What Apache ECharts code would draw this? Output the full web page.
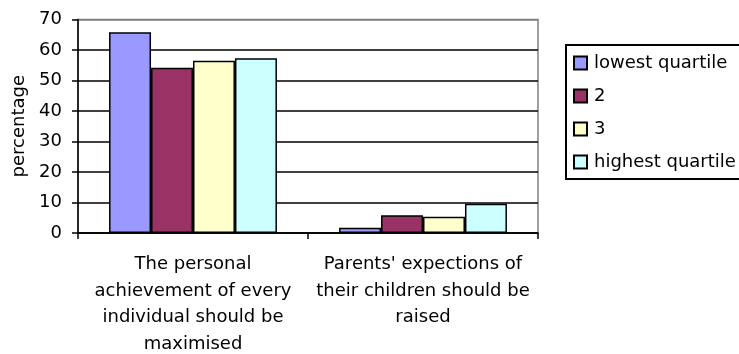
<!DOCTYPE html>
<html>
<head>
<meta charset="utf-8">
<script src="https://cdn.jsdelivr.net/npm/echarts@6/dist/echarts.min.js"></script>
<style>
html,body{margin:0;padding:0;background:#fff;}
#chart{width:739px;height:354px;}
</style>
</head>
<body>
<div id="chart"></div>
<script>
const categories = [
  "The personal\nachievement of every\nindividual should be\nmaximised",
  "Parents' expections of\ntheir children should be\nraised"
];
const seriesNames = ["lowest quartile", "2", "3", "highest quartile"];
const lowestQuartile = [65.8, 1.7];
const quartile2 = [54.2, 5.8];
const quartile3 = [56.5, 5.3];
const highestQuartile = [57.3, 9.6];
const yTicks = [0, 10, 20, 30, 40, 50, 60, 70];
const colors = ["#9999FF", "#993366", "#FFFFCC", "#CCFFFF"];

const values = [lowestQuartile, quartile2, quartile3, highestQuartile];
const FONT = "DejaVu Sans";

const chart = echarts.init(document.getElementById('chart'), null, {renderer: 'canvas'});
chart.setOption({
  animation: false,
  backgroundColor: '#ffffff',
  textStyle: {fontFamily: FONT, color: '#000'},
  grid: {
    left: 78, right: 201, top: 19.5, bottom: 121,
    containLabel: false,
    outerBoundsMode: 'none',
    show: true, borderColor: '#808080', borderWidth: 1.5, backgroundColor: 'transparent'
  },
  graphic: [{
    type: 'rect',
    shape: {x: 566, y: 45, width: 200, height: 134},
    style: {fill: 'none', stroke: '#000', lineWidth: 2},
    z: 100
  }],
  legend: {
    orient: 'vertical',
    left: 566, top: 45,
    data: seriesNames,
    itemWidth: 13, itemHeight: 13,
    itemGap: 13,
    icon: 'rect',
    padding: [8, 0, 6, 7],
    textStyle: {fontFamily: FONT, fontSize: 18, color: '#000', lineHeight: 20, padding: [0,0,0,2]}
  },
  xAxis: {
    type: 'category',
    data: categories,
    axisLine: {show: true, lineStyle: {color: '#000', width: 1.5}},
    axisTick: {show: true, length: 6, lineStyle: {color: '#000', width: 1.5}},
    axisLabel: {fontFamily: FONT, fontSize: 18, color: '#000', lineHeight: 26.7, margin: 18, interval: 0},
    splitLine: {show: false}
  },
  yAxis: {
    type: 'value',
    min: yTicks[0], max: yTicks[yTicks.length - 1], interval: 10,
    name: 'percentage',
    nameLocation: 'middle',
    nameRotate: 90,
    nameGap: 48,
    nameTextStyle: {fontFamily: FONT, fontSize: 18, color: '#000'},
    axisLine: {show: true, lineStyle: {color: '#000', width: 1.5}},
    axisTick: {show: true, length: 6, lineStyle: {color: '#000', width: 1.5}},
    axisLabel: {fontFamily: FONT, fontSize: 18, color: '#000', margin: 16},
    splitLine: {show: true, lineStyle: {color: ['#000','#000','#000','#000','#000','#000','#000','#808080'], width: 1.5}}
  },
  series: seriesNames.map((name, i) => ({
    name: name,
    type: 'bar',
    data: values[i],
    barGap: '0%',
    barCategoryGap: '27%',
    itemStyle: {color: colors[i], borderColor: '#000', borderWidth: 1.5}
  }))
});
</script>
</body>
</html>
